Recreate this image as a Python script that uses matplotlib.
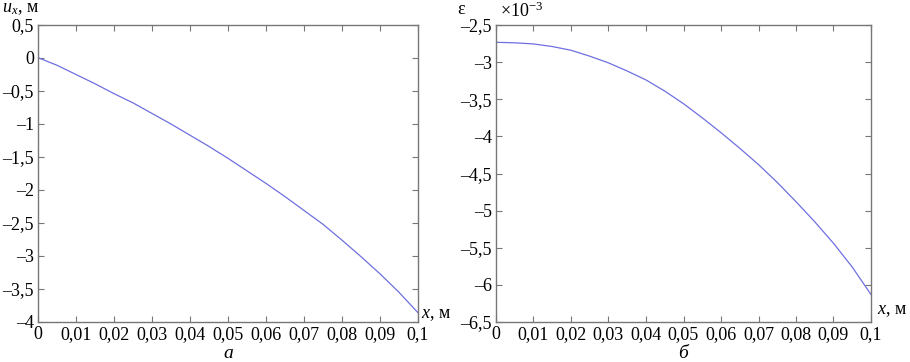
import matplotlib.pyplot as plt
from matplotlib.ticker import FuncFormatter

plt.rcParams['font.family'] = ['Liberation Serif', 'DejaVu Serif']
plt.rcParams['mathtext.fontset'] = 'custom'
plt.rcParams['mathtext.rm'] = 'Liberation Serif'
plt.rcParams['mathtext.it'] = 'Liberation Serif:italic'

# Data
x = [0, 0.005, 0.01, 0.015, 0.02, 0.025, 0.03, 0.035, 0.04, 0.045, 0.05,
     0.055, 0.06, 0.065, 0.07, 0.075, 0.08, 0.085, 0.09, 0.095, 0.1]
u_x = [0.005, -0.11, -0.25, -0.39, -0.54, -0.68, -0.84, -1.00, -1.17, -1.34, -1.52,
       -1.71, -1.90, -2.10, -2.31, -2.52, -2.76, -3.01, -3.27, -3.55, -3.86]
eps = [-2.733, -2.74, -2.755, -2.79, -2.84, -2.92, -3.01, -3.12, -3.24, -3.39, -3.56,
       -3.75, -3.95, -4.16, -4.38, -4.62, -4.88, -5.15, -5.44, -5.76, -6.13]

x_ticks = [0, 0.01, 0.02, 0.03, 0.04, 0.05, 0.06, 0.07, 0.08, 0.09, 0.1]
u_ticks = [0.5, 0, -0.5, -1, -1.5, -2, -2.5, -3, -3.5, -4]
e_ticks = [-2.5, -3, -3.5, -4, -4.5, -5, -5.5, -6, -6.5]


def fmt(v, pos):
    s = ('%.2f' % v).rstrip('0').rstrip('.')
    if s in ('-0', ''):
        s = '0'
    return s.replace('.', ',').replace('-', '\u2013')


fig = plt.figure(figsize=(9.1, 3.62), dpi=100)
ax1 = fig.add_axes([38 / 910, 40 / 362, 380 / 910, 297 / 362])
ax2 = fig.add_axes([496 / 910, 40 / 362, 375 / 910, 297 / 362])

line_color = '#6f6fe0'
ax1.plot(x, u_x, color=line_color, lw=0.9)
ax2.plot(x, eps, color=line_color, lw=0.9)

ax1.set_ylim(-4, 0.5)
ax1.set_yticks(u_ticks)
ax2.set_ylim(-6.5, -2.5)
ax2.set_yticks(e_ticks)

for ax in (ax1, ax2):
    ax.set_xlim(0, 0.1)
    ax.set_xticks(x_ticks)
    ax.xaxis.set_major_formatter(FuncFormatter(fmt))
    ax.yaxis.set_major_formatter(FuncFormatter(fmt))
    ax.tick_params(direction='in', top=True, right=True, length=4,
                   color='#777777', labelsize=13, pad=3)
    for sp in ax.spines.values():
        sp.set_color('#777777')
        sp.set_linewidth(1.0)

fig.text(2 / 910, 350 / 362, '$u_x$, м', fontsize=13, va='baseline', ha='left')
fig.text(421 / 910, 44 / 362, '$x$, м', fontsize=13, va='baseline', ha='left')
fig.text(457 / 910, 348 / 362, 'ε', fontsize=13, va='baseline', ha='left')
fig.text(500 / 910, 345 / 362, '×10$^{-3}$', fontsize=13, va='baseline', ha='left')
fig.text(877 / 910, 48 / 362, '$x$, м', fontsize=13, va='baseline', ha='left')
fig.text(228 / 910, 4 / 362, 'а', fontsize=14, style='italic', va='baseline', ha='center')
fig.text(683 / 910, 4 / 362, 'б', fontsize=14, style='italic', va='baseline', ha='center')

fig.savefig('out.png', dpi=100)
